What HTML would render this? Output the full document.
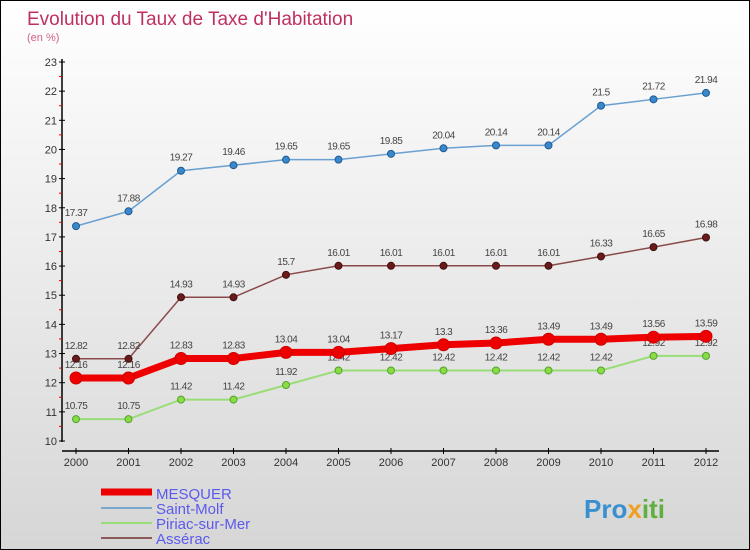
<!DOCTYPE html>
<html><head><meta charset="utf-8"><style>
body{margin:0}
#c{width:750px;height:550px;position:relative;box-sizing:border-box;border:1px solid #000;background:linear-gradient(#ffffff,#d6d6d6);font-family:"Liberation Sans",sans-serif;overflow:hidden}
</style></head><body>
<div id="c">
<svg id="s" width="748" height="548" style="position:absolute;left:0;top:0">
<text x="26" y="24" font-size="19" fill="#c0305e">Evolution du Taux de Taxe d'Habitation</text>
<text x="26" y="40" font-size="11" fill="#d0608a">(en %)</text>
<g id="ax"></g><g id="ser"></g>
<g>
<line x1="100" y1="491" x2="151" y2="491" stroke="#e00" stroke-width="7"/>
<text x="155" y="498" font-size="15" fill="#5a5aee">MESQUER</text>
<line x1="100" y1="507" x2="151" y2="507" stroke="#7aa8cc" stroke-width="2"/>
<text x="155" y="513" font-size="15" fill="#5a5aee">Saint-Molf</text>
<line x1="100" y1="522" x2="151" y2="522" stroke="#99dd77" stroke-width="2"/>
<text x="155" y="528" font-size="15" fill="#5a5aee">Piriac-sur-Mer</text>
<line x1="100" y1="537" x2="151" y2="537" stroke="#8a5a5a" stroke-width="2"/>
<text x="155" y="543" font-size="15" fill="#5a5aee">Assérac</text>
</g>
<text x="583" y="517" font-size="26" font-weight="bold" fill="#3a8fd0">Pro<tspan fill="#f0a020">x</tspan><tspan fill="#60b040">iti</tspan></text>
</svg>
</div>
<script>
const years=[2000,2001,2002,2003,2004,2005,2006,2007,2008,2009,2010,2011,2012];
const yTicks=[10,11,12,13,14,15,16,17,18,19,20,21,22,23];
const mesquer=[12.16,12.16,12.83,12.83,13.04,13.04,13.17,13.3,13.36,13.49,13.49,13.56,13.59];
const saintMolf=[17.37,17.88,19.27,19.46,19.65,19.65,19.85,20.04,20.14,20.14,21.5,21.72,21.94];
const piriac=[10.75,10.75,11.42,11.42,11.92,12.42,12.42,12.42,12.42,12.42,12.42,12.92,12.92];
const asserac=[12.82,12.82,14.93,14.93,15.7,16.01,16.01,16.01,16.01,16.01,16.33,16.65,16.98];
const NS="http://www.w3.org/2000/svg";
const X=i=>75+i*52.5, Y=v=>440-(v-10)*(379/13);
function mk(p,t,a){const e=document.createElementNS(NS,t);for(const k in a)e.setAttribute(k,a[k]);p.appendChild(e);return e;}
const ax=document.getElementById('ax'),ser=document.getElementById('ser');
mk(ax,'line',{x1:61,y1:58,x2:61,y2:441,stroke:'#000','stroke-width':1.5});
mk(ax,'line',{x1:61,y1:450,x2:718,y2:450,stroke:'#000','stroke-width':1.5});
yTicks.forEach(v=>{const y=Y(v);mk(ax,'line',{x1:58,y1:y,x2:64,y2:y,stroke:'#000'});
if(v<23)mk(ax,'line',{x1:58,y1:y-14.6,x2:61,y2:y-14.6,stroke:'#e00'});
const t=mk(ax,'text',{x:56,y:y+4,'font-size':11,fill:'#333','text-anchor':'end'});t.textContent=v;
});
years.forEach((yr,i)=>{const x=X(i);mk(ax,'line',{x1:x,y1:447,x2:x,y2:453,stroke:'#000'});
const t=mk(ax,'text',{x:x,y:465,'font-size':11,fill:'#333','text-anchor':'middle'});t.textContent=yr;
});
function draw(d,col,w,dot,dotStroke,r,name){
const g=mk(ser,'g',{});
mk(g,'polyline',{points:d.map((v,i)=>X(i)+','+Y(v)).join(' '),fill:'none',stroke:col,'stroke-width':w});
d.forEach((v,i)=>{const c=mk(g,'circle',{cx:X(i),cy:Y(v),r:r,fill:dot,stroke:dotStroke,'stroke-width':1});

const t=mk(g,'text',{x:X(i),y:Y(v)-10,'font-size':10,fill:'#444','text-anchor':'middle','letter-spacing':'-0.5'});t.textContent=v;});
}
draw(piriac,'#99dd77',2,'#88dd44','#55a030',3.5,'piriac-series');
draw(asserac,'#8a4a4a',1.5,'#6a1a1a','#401010',3.5,'asserac-series');
draw(saintMolf,'#6aa0d0',1.5,'#3a88cc','#205a90',3.5,'saint-molf-series');
draw(mesquer,'#ee0000',7,'#ee0000','#cc0000',6,'mesquer-series');
</script>
</body></html>
